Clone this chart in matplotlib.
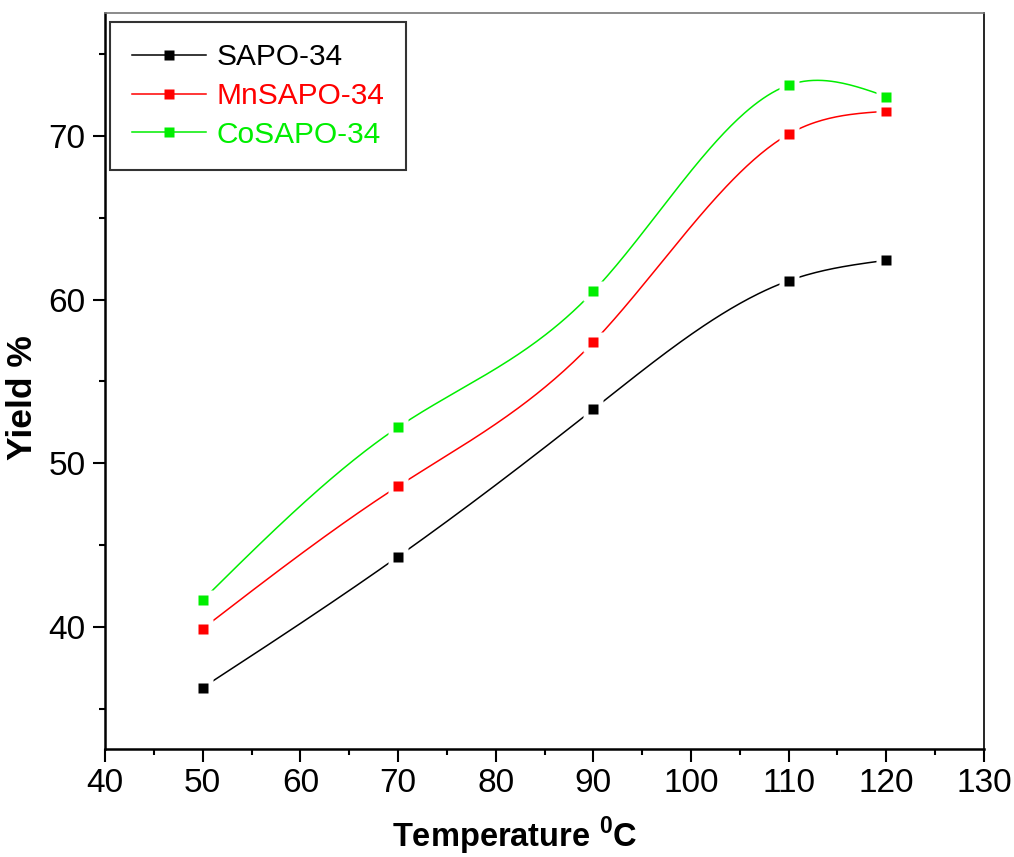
import numpy as np
import matplotlib
matplotlib.use("Agg")
import matplotlib.pyplot as plt
from matplotlib.lines import Line2D
from matplotlib.ticker import MultipleLocator

plt.rcParams["font.family"] = ["Liberation Sans", "DejaVu Sans"]
plt.rcParams["mathtext.fontset"] = "custom"
plt.rcParams["mathtext.rm"] = "Liberation Sans"
plt.rcParams["mathtext.bf"] = "Liberation Sans:bold"

temperature = [50, 70, 90, 110, 120]
sapo = [36.3, 44.3, 53.3, 61.15, 62.4]
mnsapo = [39.9, 48.6, 57.4, 70.1, 71.5]
cosapo = [41.65, 52.2, 60.5, 73.1, 72.4]

series_names = ["SAPO-34", "MnSAPO-34", "CoSAPO-34"]
series_colors = ["black", "#ff0000", "#00ee00"]


def natural_spline(x, y, n=300):
    """Natural cubic spline through the data points, for a smooth line."""
    x = np.asarray(x, float)
    y = np.asarray(y, float)
    k = len(x)
    h = np.diff(x)
    A = np.zeros((k, k))
    b = np.zeros(k)
    A[0, 0] = A[-1, -1] = 1
    for i in range(1, k - 1):
        A[i, i - 1] = h[i - 1]
        A[i, i] = 2 * (h[i - 1] + h[i])
        A[i, i + 1] = h[i]
        b[i] = 6 * ((y[i + 1] - y[i]) / h[i] - (y[i] - y[i - 1]) / h[i - 1])
    m = np.linalg.solve(A, b)
    xs = np.linspace(x[0], x[-1], n)
    idx = np.clip(np.searchsorted(x, xs) - 1, 0, k - 2)
    x0, x1 = x[idx], x[idx + 1]
    hh = x1 - x0
    t0 = x1 - xs
    t1 = xs - x0
    ys = (m[idx] * t0 ** 3 / (6 * hh) + m[idx + 1] * t1 ** 3 / (6 * hh)
          + (y[idx] / hh - m[idx] * hh / 6) * t0
          + (y[idx + 1] / hh - m[idx + 1] * hh / 6) * t1)
    return xs, ys


fig = plt.figure(figsize=(10.14, 8.57), dpi=100)
ax = fig.add_axes([0.1036, 0.126, 0.8668, 0.8588])

for z, (vals, color) in enumerate(zip([sapo, mnsapo, cosapo], series_colors)):
    xs, ys = natural_spline(temperature, vals)
    base = 3 * z + 2
    ax.plot(xs, ys, color=color, lw=1.1, zorder=base)
    # white squares give the little gaps round each marker
    ax.plot(temperature, vals, ls="none", marker="s", ms=15, color="white",
            mec="none", zorder=base + 1)
    ax.plot(temperature, vals, ls="none", marker="s", ms=6.8, color=color,
            mec="none", zorder=base + 2)

ax.set_xlim(40, 130)
ax.set_ylim(32.55, 77.5)
ax.xaxis.set_major_locator(MultipleLocator(10))
ax.xaxis.set_minor_locator(MultipleLocator(5))
ax.yaxis.set_major_locator(MultipleLocator(10))
ax.yaxis.set_minor_locator(MultipleLocator(5))
ax.tick_params(which="major", direction="out", length=9, width=1.5,
               labelsize=24, top=False, right=False, pad=5)
ax.tick_params(which="minor", direction="out", length=4.5, width=1.5,
               top=False, right=False)

for side in ["left", "bottom"]:
    ax.spines[side].set_linewidth(1.8)
ax.spines["right"].set_linewidth(1.2)
ax.spines["top"].set_linewidth(1.2)
ax.spines["top"].set_color("#777777")

ax.set_xlabel(r"Temperature $^{\mathbf{0}}$C", fontsize=23.5, fontweight="bold")
ax.xaxis.set_label_coords(0.466, -0.09)
ax.set_ylabel("Yield %", fontsize=25.5, fontweight="bold")
ax.yaxis.set_label_coords(-0.075, 0.478)

handles = [Line2D([], [], color=c, lw=1.1, marker="s", ms=6.8, mec="none")
           for c in series_colors]
leg = ax.legend(handles, series_names, loc="upper left",
                bbox_to_anchor=(0.006, 0.988), borderaxespad=0,
                fontsize=21.5, frameon=True, fancybox=False, handlelength=2.5,
                handletextpad=0.35, labelspacing=0.36, borderpad=0.72)
leg.get_frame().set_edgecolor("black")
leg.get_frame().set_linewidth(1.5)
for text, c in zip(leg.get_texts(), series_colors):
    text.set_color(c)

fig.savefig("out.png", dpi=100)
